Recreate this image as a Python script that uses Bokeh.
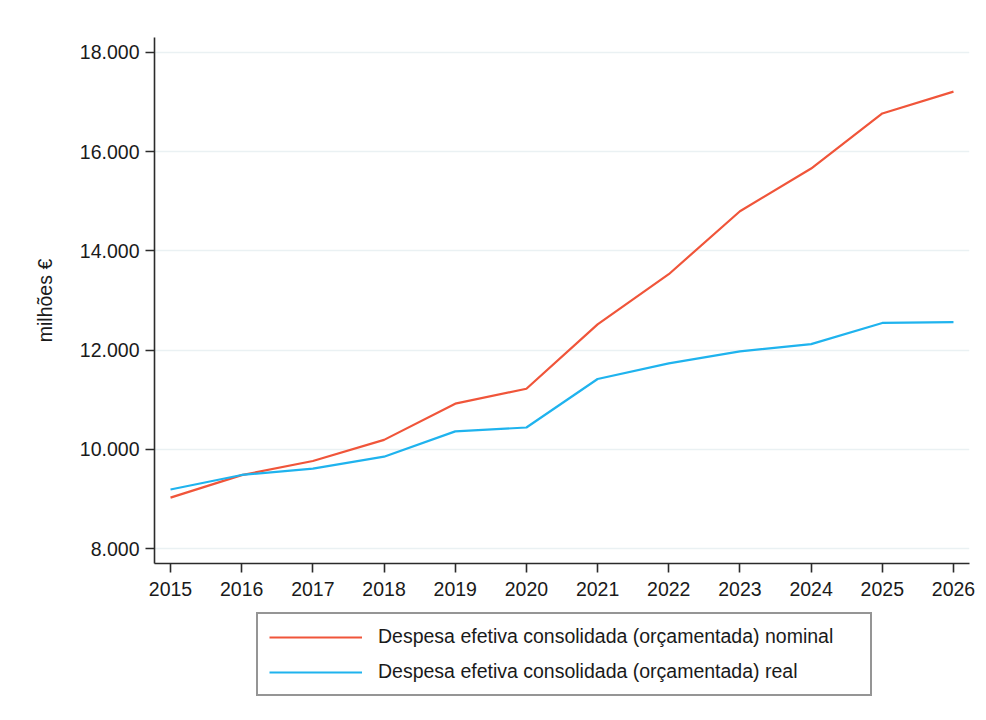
from bokeh.plotting import figure
from bokeh.layouts import column
from bokeh.models import (Range1d, FixedTicker, CustomJSTickFormatter, Legend, LegendItem)
from bokeh.embed import file_html
from bokeh.resources import INLINE

years = [2015, 2016, 2017, 2018, 2019, 2020, 2021, 2022, 2023, 2024, 2025, 2026]
nominal = [9026, 9480, 9765, 10190, 10920, 11220, 12520, 13530, 14800, 15660, 16770, 17210]
real = [9190, 9483, 9610, 9851, 10362, 10440, 11417, 11732, 11975, 12120, 12547, 12565]
y_ticks = [8000, 10000, 12000, 14000, 16000, 18000]
label_nominal = "Despesa efetiva consolidada (orçamentada) nominal"
label_real = "Despesa efetiva consolidada (orçamentada) real"
y_label = "milhões €"

RED = "#F0553A"
BLUE = "#1FB3EE"
FONT = "Liberation Sans"
W = 978

p = figure(width=W, height=608, output_backend="svg", toolbar_location=None,
           x_range=Range1d(2014.775, 2026.225), y_range=Range1d(7698, 18302),
           min_border_left=154, min_border_top=37, min_border_right=9, min_border_bottom=45)
p.outline_line_color = None
p.background_fill_color = "white"
p.border_fill_color = "white"

r1 = p.line(years, nominal, line_color=RED, line_width=2.2)
r2 = p.line(years, real, line_color=BLUE, line_width=2.2)

p.xaxis.ticker = FixedTicker(ticks=years)
p.yaxis.ticker = FixedTicker(ticks=y_ticks)
p.yaxis.formatter = CustomJSTickFormatter(code="""
return Math.round(tick).toString().replace(/\\B(?=(\\d{3})+(?!\\d))/g, '.');
""")
for ax in (p.xaxis[0], p.yaxis[0]):
    ax.axis_line_color = "#2b2b2b"
    ax.axis_line_width = 1.6
    ax.major_tick_line_color = "#2b2b2b"
    ax.major_tick_line_width = 1.6
    ax.major_tick_out = 9
    ax.major_tick_in = 0
    ax.minor_tick_line_color = None
    ax.major_label_text_font = FONT
    ax.major_label_text_font_size = "19.5px"
    ax.major_label_text_color = "#1a1a1a"
p.xaxis.major_label_standoff = 9
p.yaxis.major_label_standoff = 6
p.yaxis.axis_label = y_label
p.yaxis.axis_label_text_font = FONT
p.yaxis.axis_label_text_font_size = "19.5px"
p.yaxis.axis_label_text_font_style = "normal"
p.yaxis.axis_label_text_color = "#1a1a1a"
p.yaxis.axis_label_standoff = 21

p.xgrid.grid_line_color = None
p.ygrid.grid_line_color = "#EAF1F3"
p.ygrid.grid_line_width = 1.5

# legend panel below the chart (same series, drawn outside its visible range)
lg = figure(width=W, height=104, output_backend="svg", toolbar_location=None,
            x_range=Range1d(0, 1), y_range=Range1d(0, 1),
            x_axis_type=None, y_axis_type=None,
            min_border_left=154, min_border_right=9, min_border_top=0, min_border_bottom=0)
lg.outline_line_color = None
lg.xgrid.grid_line_color = None
lg.ygrid.grid_line_color = None
lg.border_fill_color = "white"
lr1 = lg.line(years, nominal, line_color=RED, line_width=2.2)
lr2 = lg.line(years, real, line_color=BLUE, line_width=2.2)

legend = Legend(items=[LegendItem(label=label_nominal, renderers=[lr1]),
                       LegendItem(label=label_real, renderers=[lr2])],
                location=(102, 16), orientation="vertical",
                label_text_font=FONT, label_text_font_size="19.5px", label_text_color="#1a1a1a",
                glyph_width=93, glyph_height=20, label_height=20, label_standoff=16,
                label_width=481, spacing=12, padding=11, margin=0,
                border_line_color="#2b2b2b", border_line_width=2,
                background_fill_color="white")
lg.add_layout(legend, "center")

layout = column(p, lg, spacing=0)
open("out.html", "w").write(file_html(layout, INLINE))
